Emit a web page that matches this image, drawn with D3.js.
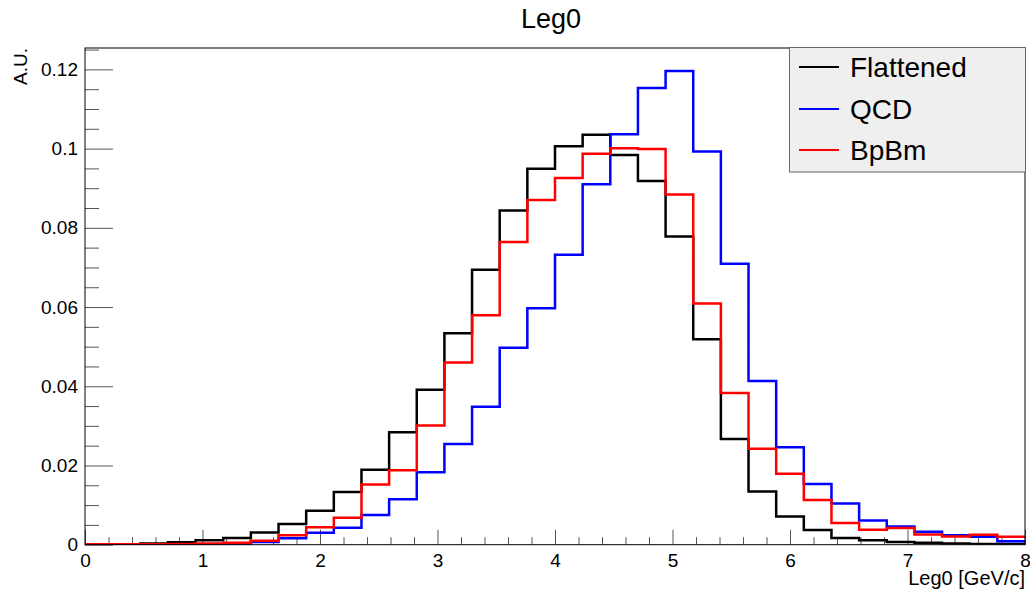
<!DOCTYPE html>
<html>
<head>
<meta charset="utf-8">
<script src="https://cdn.jsdelivr.net/npm/d3@7"></script>
<style>
  html, body { margin: 0; padding: 0; background: #fff; }
  svg text { font-family: "Liberation Sans", Arial, Helvetica, sans-serif; fill: #000; }
</style>
</head>
<body>
<svg id="chart" width="1030" height="592"></svg>
<script>
// Leg0 distributions, 34 bins from 0 to 8 GeV/c, normalised (A.U.)
const xMin = 0, xMax = 8, nBins = 34;

const flattened = [
  0.0000, 0.0001, 0.0003, 0.0006, 0.0011, 0.0017, 0.0031, 0.0052, 0.0086, 0.0133,
  0.0189, 0.0284, 0.0391, 0.0534, 0.0694, 0.0844, 0.0949, 0.1006, 0.1035, 0.0984,
  0.0918, 0.0778, 0.0519, 0.0267, 0.0134, 0.0071, 0.0037, 0.0017, 0.0011, 0.0007,
  0.0005, 0.0003, 0.0002, 0.0002
];
const qcd = [
  0.0000, 0.0000, 0.0000, 0.0001, 0.0001, 0.0002, 0.0007, 0.0016, 0.0030, 0.0043,
  0.0075, 0.0115, 0.0183, 0.0254, 0.0348, 0.0497, 0.0597, 0.0732, 0.0910, 0.1036,
  0.1153, 0.1196, 0.0993, 0.0709, 0.0413, 0.0246, 0.0153, 0.0104, 0.0061, 0.0046,
  0.0033, 0.0024, 0.0020, 0.0009
];
const bpbm = [
  0.0001, 0.0001, 0.0001, 0.0002, 0.0003, 0.0005, 0.0010, 0.0024, 0.0044, 0.0068,
  0.0152, 0.0188, 0.0301, 0.0460, 0.0579, 0.0764, 0.0870, 0.0926, 0.0987, 0.1001,
  0.0999, 0.0884, 0.0609, 0.0383, 0.0242, 0.0179, 0.0113, 0.0055, 0.0038, 0.0042,
  0.0026, 0.0021, 0.0025, 0.0020
];

const seriesNames = ["Flattened", "QCD", "BpBm"];
const seriesColors = ["#000000", "#0000ff", "#ff0000"];

const xTickValues = [0, 1, 2, 3, 4, 5, 6, 7, 8];
const xTickLabels = ["0", "1", "2", "3", "4", "5", "6", "7", "8"];
const yTickValues = [0, 0.02, 0.04, 0.06, 0.08, 0.1, 0.12];
const yTickLabels = ["0", "0.02", "0.04", "0.06", "0.08", "0.1", "0.12"];
const yMax = 0.1254;

const titleText = "Leg0";
const xTitle = "Leg0 [GeV/c]";
const yTitle = "A.U.";

// frame geometry
const frame = { left: 85, right: 1025, top: 48, bottom: 544.7 };

const svg = d3.select("#chart");

const x = d3.scaleLinear().domain([xMin, xMax]).range([frame.left, frame.right]);
const y = d3.scaleLinear().domain([0, yMax]).range([frame.bottom, frame.top]);

const binWidth = (xMax - xMin) / nBins;

// clip region for the histograms
svg.append("defs").append("clipPath").attr("id", "plotClip")
  .append("rect")
  .attr("x", frame.left).attr("y", frame.top)
  .attr("width", frame.right - frame.left)
  .attr("height", frame.bottom - frame.top);

// minor ticks
const xMinor = d3.range(0, 41).map(i => i * 0.2).filter(v => !xTickValues.some(t => Math.abs(t - v) < 1e-9));
const yMinor = d3.range(0, 26).map(i => i * 0.005).filter(v => !yTickValues.some(t => Math.abs(t - v) < 1e-9));

const xAxisMinor = d3.axisBottom(x).tickValues(xMinor).tickSize(-7.5).tickSizeOuter(0).tickFormat("");
const xAxisMajor = d3.axisBottom(x).tickValues(xTickValues).tickSize(-15).tickSizeOuter(0)
  .tickPadding(6).tickFormat((d, i) => xTickLabels[i]);
const yAxisMinor = d3.axisLeft(y).tickValues(yMinor).tickSize(-14).tickSizeOuter(0).tickFormat("");
const yAxisMajor = d3.axisLeft(y).tickValues(yTickValues).tickSize(-28).tickSizeOuter(0)
  .tickPadding(7).tickFormat((d, i) => yTickLabels[i]);

function styleAxis(g) {
  g.select(".domain").remove();
  g.selectAll(".tick line").attr("stroke", "#555").attr("stroke-width", 1);
  g.selectAll(".tick text").style("font-size", "19px").attr("fill", "#000");
}

svg.append("g").attr("transform", `translate(0,${frame.bottom})`).call(xAxisMinor).call(styleAxis);
svg.append("g").attr("transform", `translate(0,${frame.bottom})`).call(xAxisMajor).call(styleAxis)
  .selectAll(".tick text").attr("dy", "0.85em");
svg.append("g").attr("transform", `translate(${frame.left},0)`).call(yAxisMinor).call(styleAxis);
svg.append("g").attr("transform", `translate(${frame.left},0)`).call(yAxisMajor).call(styleAxis);

// histogram outlines
const stepLine = d3.line()
  .x(d => x(d[0]))
  .y(d => y(d[1]))
  .curve(d3.curveStepAfter);

function outline(values) {
  const pts = [[xMin, 0]];
  values.forEach((v, i) => pts.push([xMin + i * binWidth, v]));
  pts.push([xMax, values[values.length - 1]]);
  return pts;
}

const allSeries = [flattened, qcd, bpbm];
svg.append("g").attr("clip-path", "url(#plotClip)")
  .selectAll("path")
  .data(allSeries)
  .join("path")
  .attr("d", d => stepLine(outline(d)))
  .attr("fill", "none")
  .attr("stroke", (d, i) => seriesColors[i])
  .attr("stroke-width", 2.5)
  .attr("stroke-linejoin", "miter");

// frame
svg.append("rect")
  .attr("x", frame.left).attr("y", frame.top)
  .attr("width", frame.right - frame.left)
  .attr("height", frame.bottom - frame.top)
  .attr("fill", "none")
  .attr("stroke", "#000")
  .attr("stroke-width", 1);

// title
svg.append("text")
  .attr("x", 551).attr("y", 28)
  .attr("text-anchor", "middle")
  .style("font-size", "27px")
  .text(titleText);

// axis titles
svg.append("text")
  .attr("x", frame.right).attr("y", 585)
  .attr("text-anchor", "end")
  .style("font-size", "20px")
  .text(xTitle);

svg.append("text")
  .attr("transform", `translate(27,${frame.top}) rotate(-90)`)
  .attr("text-anchor", "end")
  .style("font-size", "19px")
  .text(yTitle);

// legend
const legend = { x: 789.5, y: 47.5, w: 236, h: 124.5 };
const lg = svg.append("g");
lg.append("rect")
  .attr("x", legend.x).attr("y", legend.y)
  .attr("width", legend.w).attr("height", legend.h)
  .attr("fill", "#efefef")
  .attr("stroke", "#666")
  .attr("stroke-width", 1);

const rowY = [67, 109, 150];
seriesNames.forEach((name, i) => {
  lg.append("line")
    .attr("x1", 799).attr("x2", 839)
    .attr("y1", rowY[i]).attr("y2", rowY[i])
    .attr("stroke", seriesColors[i])
    .attr("stroke-width", 2);
  lg.append("text")
    .attr("x", 850).attr("y", rowY[i])
    .attr("dy", "0.36em")
    .style("font-size", "28px")
    .text(name);
});
</script>
</body>
</html>
